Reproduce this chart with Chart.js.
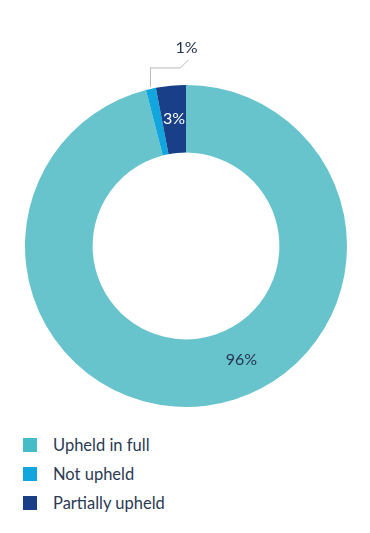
<!DOCTYPE html>
<html lang="en">
<head>
    <meta charset="UTF-8">
    <title>Complaint outcomes</title>
    <script src="https://cdn.jsdelivr.net/npm/chart.js"></script>
    <style>
        html, body {
            margin: 0;
            padding: 0;
            background: #ffffff;
        }

        .chart-wrap {
            position: relative;
            width: 370px;
            height: 410px;
        }

        .legend {
            list-style: none;
            margin: 0;
            padding: 0;
            position: absolute;
            left: 23px;
            top: 430px;
            font-family: Lato, sans-serif;
            font-size: 16.5px;
            color: #2b3a52;
        }

        .legend li {
            height: 29px;
            display: flex;
            align-items: center;
        }

        .legend span {
            display: inline-block;
            width: 14px;
            height: 14px;
            margin-right: 16px;
        }
    </style>
</head>
<body>
    <div class="chart-wrap">
        <canvas id="outcomeChart" width="370" height="410"></canvas>
    </div>
    <ul class="legend" id="legend"></ul>

    <script>
        // Outcome shares (%)
        const outcomes = ['Upheld in full', 'Not upheld', 'Partially upheld'];
        const shares = [96, 1, 3];
        const sliceColours = ['#67c3cc', '#12a6df', '#183f87'];
        const legendColours = ['#45bcc7', '#12a6df', '#183f87'];

        // where each percentage label sits
        const labelMode = ['inside', 'outside', 'inside'];
        const labelColours = ['#253552', '#253552', '#ffffff'];
        const labelAngleFrac = [0.446, 0.5, 0.5]; // position along the slice

        // Draws the % labels and the leader line for small slices
        const percentLabels = {
            id: 'percentLabels',
            afterDatasetsDraw(chart) {
                const ctx = chart.ctx;
                const arcs = chart.getDatasetMeta(0).data;
                ctx.save();
                ctx.font = '16px Lato, sans-serif';
                ctx.textAlign = 'center';
                ctx.textBaseline = 'middle';
                arcs.forEach((arc, i) => {
                    const p = arc.getProps(['x', 'y', 'startAngle', 'endAngle', 'innerRadius', 'outerRadius'], true);
                    const ang = p.startAngle + (p.endAngle - p.startAngle) * labelAngleFrac[i];
                    const text = shares[i] + '%';
                    if (labelMode[i] === 'inside') {
                        const r = (p.innerRadius + p.outerRadius) / 2;
                        ctx.fillStyle = labelColours[i];
                        ctx.fillText(text, p.x + Math.cos(ang) * r, p.y + Math.sin(ang) * r - 1);
                    } else {
                        // leader line: up from the slice edge, across, then a short diagonal
                        const sx = p.x + Math.cos(ang) * (p.outerRadius + 2);
                        const sy = p.y + Math.sin(ang) * (p.outerRadius + 2);
                        const ky = sy - 19;
                        const kx = sx + 30;
                        ctx.strokeStyle = '#b4b9be';
                        ctx.lineWidth = 1;
                        ctx.beginPath();
                        ctx.moveTo(sx, sy);
                        ctx.lineTo(sx, ky);
                        ctx.lineTo(kx, ky);
                        ctx.lineTo(kx + 8, ky - 8);
                        ctx.stroke();
                        ctx.fillStyle = labelColours[i];
                        ctx.fillText(text, kx + 6, ky - 20);
                    }
                });
                ctx.restore();
            }
        };

        const ctx = document.getElementById('outcomeChart').getContext('2d');
        const outcomeChart = new Chart(ctx, {
            type: 'doughnut',
            data: {
                labels: outcomes,
                datasets: [{
                    data: shares,
                    backgroundColor: sliceColours,
                    borderWidth: 0
                }]
            },
            options: {
                responsive: false,
                maintainAspectRatio: false,
                animation: false,
                cutout: '58%',
                layout: {
                    padding: { top: 85, bottom: 3, left: 25, right: 23 }
                },
                plugins: {
                    legend: { display: false },
                    tooltip: { enabled: false }
                }
            },
            plugins: [percentLabels]
        });

        // simple vertical legend from the same arrays
        const legend = document.getElementById('legend');
        outcomes.forEach((name, i) => {
            const li = document.createElement('li');
            const box = document.createElement('span');
            box.style.background = legendColours[i];
            li.appendChild(box);
            li.appendChild(document.createTextNode(name));
            legend.appendChild(li);
        });
    </script>
</body>
</html>
